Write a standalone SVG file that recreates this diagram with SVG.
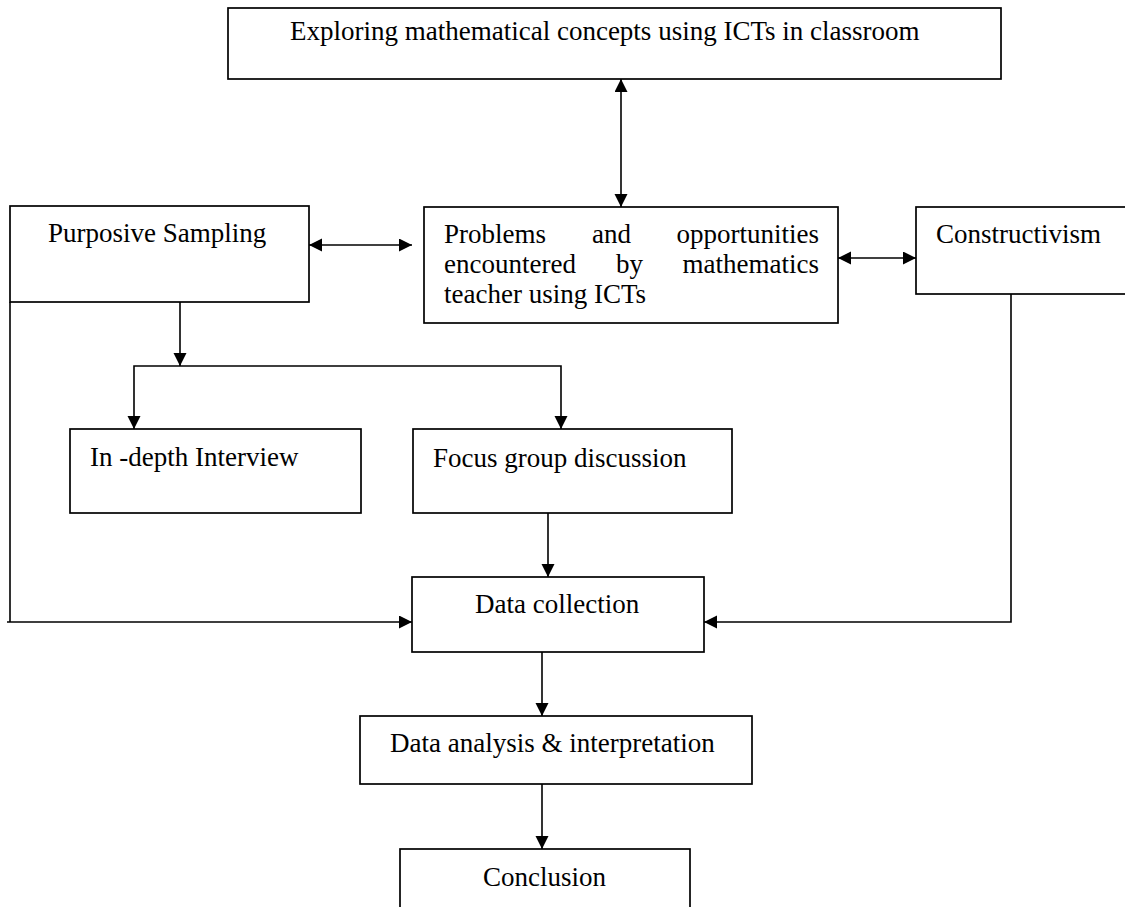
<svg xmlns="http://www.w3.org/2000/svg" width="1125" height="907" viewBox="0 0 1125 907">
<style>
.box{fill:#fff;stroke:#000;stroke-width:1.7}
.t{font-family:"Liberation Serif","Times New Roman",serif;font-size:27px;fill:#000}
.c{fill:none;stroke:#000;stroke-width:1.6}
</style>
<defs>
<marker id="ah" markerUnits="userSpaceOnUse" markerWidth="14" markerHeight="14" refX="13" refY="6.5" orient="auto-start-reverse" viewBox="0 0 14 14">
<path d="M0,0 L13,6.5 L0,13 z" fill="#000"/>
</marker>
</defs>
<rect width="1125" height="907" fill="#fff"/>
<g id="connectors">
<line class="c" x1="621" y1="79" x2="621" y2="207" marker-start="url(#ah)" marker-end="url(#ah)"/>
<line class="c" x1="309" y1="245" x2="412" y2="245" marker-start="url(#ah)" marker-end="url(#ah)"/>
<line class="c" x1="838" y1="258" x2="916" y2="258" marker-start="url(#ah)" marker-end="url(#ah)"/>
<line class="c" x1="180" y1="302" x2="180" y2="366" marker-end="url(#ah)"/>
<polyline class="c" points="134,429 134,366 561,366 561,429" marker-start="url(#ah)" marker-end="url(#ah)"/>
<line class="c" x1="548" y1="513" x2="548" y2="577" marker-end="url(#ah)"/>
<polyline class="c" points="10,302 10,622 7,622 412,622" marker-end="url(#ah)"/>
<polyline class="c" points="1011,294 1011,622 704,622" marker-end="url(#ah)"/>
<line class="c" x1="542" y1="652" x2="542" y2="716" marker-end="url(#ah)"/>
<line class="c" x1="542" y1="784" x2="542" y2="849" marker-end="url(#ah)"/>
</g>
<g id="n-explore">
<rect class="box" x="228" y="8" width="773" height="71"/>
<text class="t" x="290" y="40">Exploring mathematical concepts using ICTs in classroom</text>
</g>
<g id="n-purposive">
<rect class="box" x="10" y="206" width="299" height="96"/>
<text class="t" x="48" y="242">Purposive Sampling</text>
</g>
<g id="n-problems">
<rect class="box" x="424" y="207" width="414" height="116"/>
<text class="t" x="444" y="243">Problems</text>
<text class="t" x="592" y="243">and</text>
<text class="t" x="819" y="243" text-anchor="end">opportunities</text>
<text class="t" x="444" y="273">encountered</text>
<text class="t" x="616" y="273">by</text>
<text class="t" x="819" y="273" text-anchor="end">mathematics</text>
<text class="t" x="444" y="303">teacher using ICTs</text>
</g>
<g id="n-constructivism">
<rect class="box" x="916" y="207" width="220" height="87"/>
<text class="t" x="936" y="243">Constructivism</text>
</g>
<g id="n-interview">
<rect class="box" x="70" y="429" width="291" height="84"/>
<text class="t" x="90" y="466">In -depth Interview</text>
</g>
<g id="n-focus">
<rect class="box" x="413" y="429" width="319" height="84"/>
<text class="t" x="433" y="467">Focus group discussion</text>
</g>
<g id="n-collection">
<rect class="box" x="412" y="577" width="292" height="75"/>
<text class="t" x="475" y="613">Data collection</text>
</g>
<g id="n-analysis">
<rect class="box" x="360" y="716" width="392" height="68"/>
<text class="t" x="390" y="752">Data analysis &amp; interpretation</text>
</g>
<g id="n-conclusion">
<rect class="box" x="400" y="849" width="290" height="80"/>
<text class="t" x="483" y="886">Conclusion</text>
</g>
</svg>
